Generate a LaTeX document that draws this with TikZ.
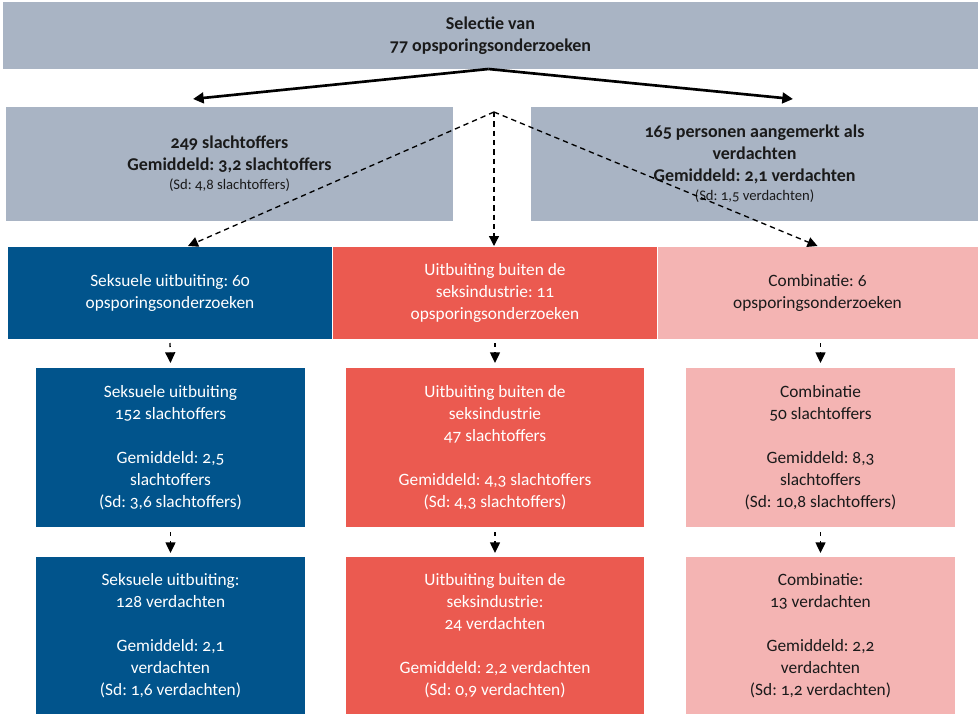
\documentclass[tikz,border=0pt]{standalone}
\usepackage{fontspec}
\setmainfont{Carlito}[Numbers=OldStyle]
\frenchspacing
\usetikzlibrary{arrows.meta,calc}
\definecolor{gbox}{HTML}{A9B4C4}
\definecolor{bbox}{HTML}{01548C}
\definecolor{rbox}{HTML}{EB5A50}
\definecolor{pbox}{HTML}{F4B4B3}
\definecolor{dtext}{HTML}{1A1A1A}
\tikzset{
  box/.style={inner sep=0pt, outer sep=0pt, align=center, font=\fontsize{13}{16.5}\selectfont},
  gray/.style={box, fill=gbox, text=dtext},
  blue/.style={box, fill=bbox, text=white},
  red/.style={box, fill=rbox, text=white},
  pink/.style={box, fill=pbox, text=dtext},
  solidarr/.style={line width=2pt, -{Triangle[width=8pt,length=8pt]}},
  dasharr/.style={line width=1pt, dash pattern=on 4pt off 3pt, -{Triangle[width=7.5pt,length=7.5pt]}},
  shortarr/.style={line width=1pt, dash pattern=on 3pt off 4pt, -{Triangle[width=7.5pt,length=8pt]}},
}
\begin{document}
\begin{tikzpicture}[x=0.75pt,y=-0.75pt]
\useasboundingbox (0,0) rectangle (978,714);
% top
\node[gray, minimum width=731.25pt, minimum height=50.25pt, font=\fontsize{13.5}{16.5}\selectfont\bfseries] (top) at (490.5,35.5)
  {Selectie van\\77 opsporingsonderzoeken};
% row 2
\node[gray, minimum width=335.25pt, minimum height=85.5pt, font=\fontsize{13.5}{16.5}\selectfont] (g1) at (229.5,164)
  {\textbf{249 slachtoffers}\\\textbf{Gemiddeld: 3,2 slachtoffers}\\[-2pt]{\fontsize{11}{13}\selectfont (Sd: 4,8 slachtoffers)}};
\node[gray, minimum width=335.25pt, minimum height=85.5pt, font=\fontsize{13.5}{16.5}\selectfont] (g2) at (754.5,164)
  {\textbf{165 personen aangemerkt als}\\\textbf{verdachten}\\\textbf{Gemiddeld: 2,1 verdachten}\\[-2pt]{\fontsize{11}{13}\selectfont (Sd: 1,5 verdachten)}};
% row 3
\node[blue, minimum width=243pt, minimum height=69pt] (b3) at (170,293)
  {Seksuele uitbuiting: 60\\opsporingsonderzoeken};
\node[red, minimum width=243pt, minimum height=69pt] (r3) at (495,293)
  {Uitbuiting buiten de\\seksindustrie: 11\\opsporingsonderzoeken};
\node[pink, minimum width=240pt, minimum height=69pt] (p3) at (817.5,293)
  {Combinatie: 6\\opsporingsonderzoeken};
% row 4
\node[blue, minimum width=201.75pt, minimum height=119.25pt] (b4) at (170.5,447.5)
  {Seksuele uitbuiting\\152 slachtoffers\\[16.5pt]Gemiddeld: 2,5\\slachtoffers\\(Sd: 3,6 slachtoffers)};
\node[red, minimum width=223.5pt, minimum height=119.25pt] (r4) at (495,447.5)
  {Uitbuiting buiten de\\seksindustrie\\47 slachtoffers\\[16.5pt]Gemiddeld: 4,3 slachtoffers\\(Sd: 4,3 slachtoffers)};
\node[pink, minimum width=201.75pt, minimum height=119.25pt] (p4) at (820.5,447.5)
  {Combinatie\\50 slachtoffers\\[16.5pt]Gemiddeld: 8,3\\slachtoffers\\(Sd: 10,8 slachtoffers)};
% row 5
\node[blue, minimum width=201.75pt, minimum height=117.75pt] (b5) at (170.5,635.5)
  {Seksuele uitbuiting:\\128 verdachten\\[16.5pt]Gemiddeld: 2,1\\verdachten\\(Sd: 1,6 verdachten)};
\node[red, minimum width=223.5pt, minimum height=117.75pt] (r5) at (495,635.5)
  {Uitbuiting buiten de\\seksindustrie:\\24 verdachten\\[16.5pt]Gemiddeld: 2,2 verdachten\\(Sd: 0,9 verdachten)};
\node[pink, minimum width=201.75pt, minimum height=117.75pt] (p5) at (820.5,635.5)
  {Combinatie:\\13 verdachten\\[16.5pt]Gemiddeld: 2,2\\verdachten\\(Sd: 1,2 verdachten)};
% solid arrows
\coordinate (apex) at ($(top.south)+(-2,0)$);
\draw[solidarr] (apex) -- ($(g1.north)+(-36.5,-8)$);
\draw[solidarr] (apex) -- ($(g2.north)+(38.5,-8)$);
% dashed arrows
\coordinate (dapex) at (494,112);
\draw[dasharr] (dapex) -- ($(b3.north)+(18,-1)$);
\draw[dasharr] (dapex) -- ($(r3.north)+(-1,-1)$);
\draw[dasharr] (dapex) -- ($(p3.north)+(0,-1)$);
% short arrows
\draw[shortarr] ($(b3.south)+(0,4)$) -- ($(b4.north)+(0,-5)$);
\draw[shortarr] ($(r3.south)+(0,4)$) -- ($(r4.north)+(0,-5)$);
\draw[shortarr] ($(p3.south)+(3,4)$) -- ($(p4.north)+(0,-5)$);
\draw[shortarr] ($(b4.south)+(0,5)$) -- ($(b5.north)+(0,-4)$);
\draw[shortarr] ($(r4.south)+(0,5)$) -- ($(r5.north)+(0,-4)$);
\draw[shortarr] ($(p4.south)+(0,5)$) -- ($(p5.north)+(0,-4)$);
\end{tikzpicture}
\end{document}
